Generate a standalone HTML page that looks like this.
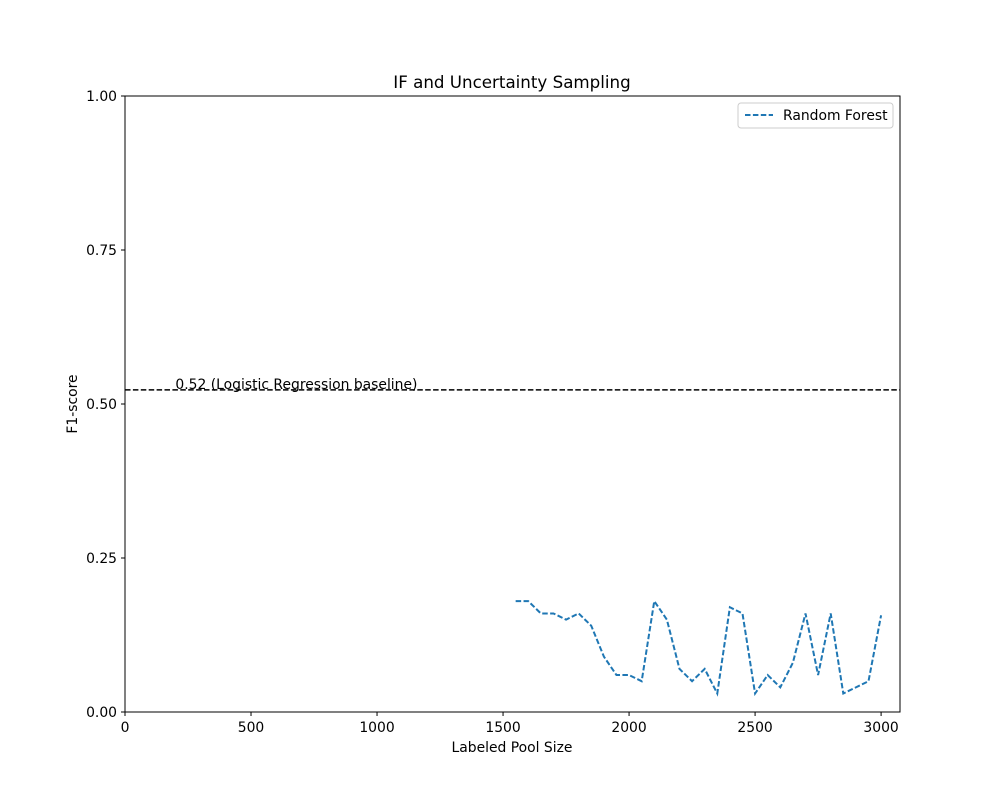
<!DOCTYPE html>
<html><head><meta charset="utf-8"><style>body{margin:0;background:#fff}svg{font-family:"DejaVu Sans","Liberation Sans",sans-serif}</style></head>
<body>
<svg id="chart" width="1000" height="800">
<rect width="1000" height="800" fill="#fff"/>
</svg>
<script>
const xValues=[1550,1600,1650,1700,1750,1800,1850,1900,1950,2000,2050,2100,2150,2200,2250,2300,2350,2400,2450,2500,2550,2600,2650,2700,2750,2800,2850,2900,2950,3000];
const f1Values=[0.18,0.18,0.16,0.16,0.15,0.16,0.14,0.09,0.06,0.06,0.05,0.18,0.15,0.07,0.05,0.07,0.03,0.17,0.16,0.03,0.06,0.04,0.08,0.16,0.06,0.16,0.03,0.04,0.05,0.157];
const baseline=0.523;
const xTicks=[0,500,1000,1500,2000,2500,3000];
const yTicks=[0,0.25,0.5,0.75,1.0];
const yTickLabels=["0.00","0.25","0.50","0.75","1.00"];
const L=125,R=900,T=96,B=712,xMax=3075;
const FS=13.9;
const sx=v=>L+v/xMax*(R-L), sy=v=>B-v*(B-T);
const svg=document.getElementById('chart');const NS='http://www.w3.org/2000/svg';
function mk(t,a,p){const e=document.createElementNS(NS,t);for(const k in a)e.setAttribute(k,a[k]);(p||svg).appendChild(e);return e;}
xTicks.forEach(v=>{const x=sx(v);
const t=mk('line',{x1:x,x2:x,y1:B,y2:B+4,stroke:'#000'});


const l=mk('text',{x:x,y:B+20,'text-anchor':'middle','font-size':FS});l.textContent=v;

});
yTicks.forEach((v,i)=>{const y=sy(v);
const t=mk('line',{x1:L-4,x2:L,y1:y,y2:y,stroke:'#000'});


const l=mk('text',{x:L-8,y:y+5,'text-anchor':'end','font-size':FS});l.textContent=yTickLabels[i];

});
const bl=mk('line',{x1:L,x2:R,y1:sy(baseline),y2:sy(baseline),stroke:'#000','stroke-width':1.5,'stroke-dasharray':'5.5,2.4'});


const bt=mk('text',{x:sx(200),y:sy(baseline)-1,'font-size':FS});bt.textContent='0.52 (Logistic Regression baseline)';


const pl=mk('polyline',{points:xValues.map((v,i)=>sx(v)+','+sy(f1Values[i])).join(' '),fill:'none',stroke:'#1f77b4','stroke-width':2,'stroke-dasharray':'5.5,2.4'});


const fr=mk('rect',{x:L,y:T,width:R-L,height:B-T,fill:'none',stroke:'#000'});


const ti=mk('text',{x:512,y:88,'text-anchor':'middle','font-size':16.7});ti.textContent='IF and Uncertainty Sampling';


const xl=mk('text',{x:512,y:752,'text-anchor':'middle','font-size':FS});xl.textContent='Labeled Pool Size';


const yl=mk('text',{x:77,y:404,'text-anchor':'middle','font-size':FS,transform:'rotate(-90 77 404)'});yl.textContent='F1-score';


const lg=mk('g',{});


mk('rect',{x:738,y:103,width:155,height:25,rx:3,fill:'#fff',stroke:'#ccc'},lg);
mk('line',{x1:745,x2:773,y1:115,y2:115,stroke:'#1f77b4','stroke-width':2,'stroke-dasharray':'5.5,2.4'},lg);
const lt=mk('text',{x:783,y:120,'font-size':FS},lg);lt.textContent='Random Forest';


</script>
</body></html>
